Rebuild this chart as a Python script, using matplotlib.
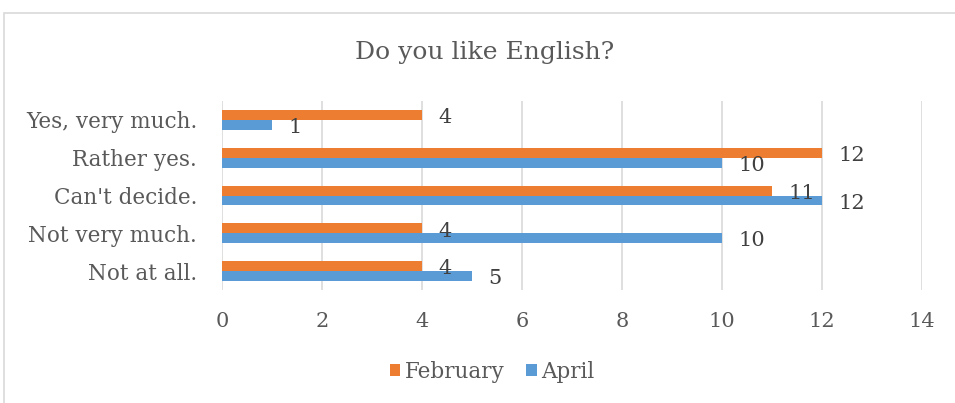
import matplotlib.pyplot as plt
import numpy as np
from matplotlib.patches import Rectangle

categories = ['Not at all.', 'Not very much.', "Can't decide.", 'Rather yes.', 'Yes, very much.']
february = [4, 4, 11, 12, 4]
april = [5, 10, 12, 10, 1]
x_ticks = [0, 2, 4, 6, 8, 10, 12, 14]

text_col = '#595959'
plt.rcParams['font.family'] = ['DejaVu Serif']

fig = plt.figure(figsize=(9.55, 4.03), dpi=100)
ax = fig.add_axes([222 / 955, 1 - 290 / 403, 700 / 955, 189 / 403])

# chart border like an Excel chart area
fig.patches.append(Rectangle((4 / 955, -0.01), 1.0, 1 - 13 / 403 + 0.01, transform=fig.transFigure,
                             fill=False, edgecolor='#d9d9d9', linewidth=1.2))

y = np.arange(len(categories))
h = 0.26
b_feb = ax.barh(y + h / 2, february, height=h, color='#ED7D31', label='February', zorder=3)
b_apr = ax.barh(y - h / 2, april, height=h, color='#5B9BD5', label='April', zorder=3)

for bars in (b_feb, b_apr):
    for r in bars:
        w = r.get_width()
        ax.annotate(str(int(w)), (w, r.get_y() + r.get_height() / 2), xytext=(12, -2),
                    textcoords='offset points', ha='left', va='center',
                    fontsize=15, color='#404040', zorder=4)

ax.set_xlim(0, 14)
ax.set_ylim(-0.5, 4.5)
ax.set_xticks(x_ticks)
ax.set_yticks(y)
ax.set_yticklabels(categories)
ax.tick_params(axis='both', length=0, labelsize=15, labelcolor=text_col)
ax.tick_params(axis='y', labelsize=15.5, pad=18)
ax.tick_params(axis='x', pad=16)
ax.grid(axis='x', color='#d9d9d9', linewidth=1.2, zorder=0)
for s in ax.spines.values():
    s.set_visible(False)

fig.text(485 / 955, 1 - 52 / 403, 'Do you like English?', ha='center', va='center',
         fontsize=18, color=text_col)

fig.legend(handles=[b_feb, b_apr], loc='center', bbox_to_anchor=(492 / 955, 1 - 372 / 403),
           ncol=2, frameon=False, fontsize=15.5, labelcolor=text_col,
           handlelength=0.5, handleheight=0.5, handletextpad=0.2, columnspacing=1.0)

fig.savefig('out.png', dpi=100)
